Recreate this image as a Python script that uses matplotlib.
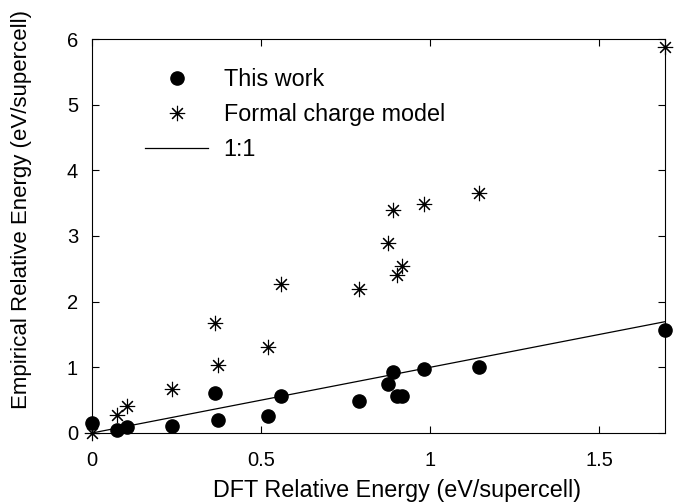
import numpy as np
import matplotlib.pyplot as plt

plt.rcParams['font.family'] = ['Liberation Sans', 'DejaVu Sans']

# DFT relative energies (shared x for both models)
dft = [0.0, 0.073, 0.103, 0.238, 0.364, 0.374, 0.521, 0.560, 0.789,
       0.877, 0.890, 0.903, 0.918, 0.981, 1.146, 1.694]
# this work
this_work = [0.148, 0.046, 0.096, 0.111, 0.604, 0.198, 0.264, 0.563, 0.492,
             0.746, 0.924, 0.558, 0.558, 0.975, 1.005, 1.564]
# formal charge model
formal = [0.0, 0.274, 0.411, 0.675, 1.670, 1.031, 1.310, 2.264, 2.188,
          2.889, 3.396, 2.410, 2.540, 3.487, 3.650, 5.880]

fig = plt.figure(figsize=(6.81, 5.04), dpi=100)
ax = fig.add_axes([0.1351, 0.1409, 0.8414, 0.7817])

ax.plot(dft, this_work, 'o', color='black', markersize=9.5,
        label='This work', clip_on=False, zorder=3)
ax.plot(dft, formal, linestyle='none', marker=(8, 2, 0), color='black',
        markersize=11, markeredgewidth=0.8, label='Formal charge model',
        clip_on=False, zorder=3)
xs = np.array([0, max(dft)])
ax.plot(xs, xs, '-', color='black', linewidth=0.9, label='1:1')

ax.set_xlim(0, 1.695)
ax.set_ylim(0, 6)
ax.set_xticks([0, 0.5, 1, 1.5])
ax.set_xticklabels(['0', '0.5', '1', '1.5'])
ax.set_yticks(range(7))
ax.tick_params(direction='in', top=True, right=True, length=5,
               labelsize=14.5)
ax.tick_params(axis='x', pad=13)
ax.tick_params(axis='y', pad=10)
ax.set_xlabel('DFT Relative Energy (eV/supercell)', fontsize=16.8)
ax.set_ylabel('Empirical Relative Energy (eV/supercell)', fontsize=16)
ax.xaxis.set_label_coords(0.533, -0.118)
ax.yaxis.set_label_coords(-0.104, 0.566)

ax.legend(loc='upper left', bbox_to_anchor=(0.056, 0.98), frameon=False,
          fontsize=16.8, handlelength=2.7, handletextpad=0.67,
          labelspacing=0.52)

fig.savefig('out.png', dpi=100)
